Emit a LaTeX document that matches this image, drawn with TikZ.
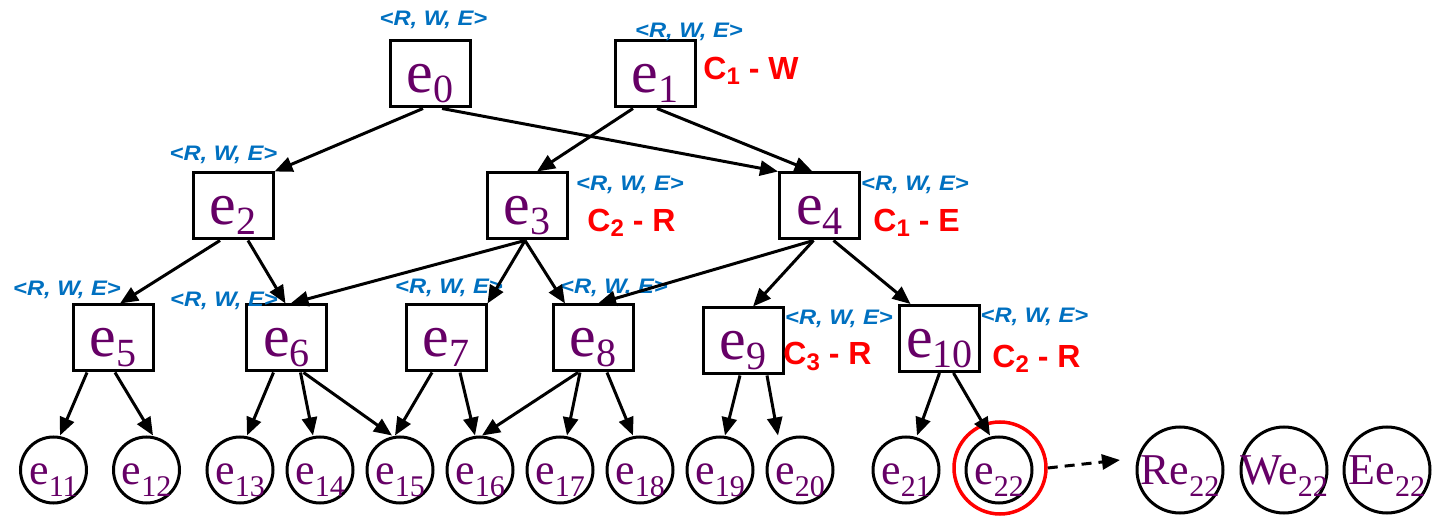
\documentclass[tikz,border=0pt]{standalone}
\usepackage{graphicx}
\usepackage{fontspec}
\setmainfont{Liberation Serif}
\newfontfamily\arialfont{Liberation Sans}
\usetikzlibrary{arrows.meta,calc}

\definecolor{nodepurple}{RGB}{102,0,102}
\definecolor{tagblue}{RGB}{0,112,192}
\definecolor{tagred}{RGB}{255,0,0}

% entity names with lowered index, centred on the node
\newcommand\boxlbl[2]{\makebox[0pt]{#1\raisebox{-5pt}{\fontsize{20pt}{20pt}\selectfont #2}}}
\newcommand\circlbl[2]{\makebox[0pt]{#1\raisebox{-6pt}{\fontsize{15pt}{15pt}\selectfont #2}}}
% access tuple and constraint tags
\newcommand\rwe{\scalebox{1.13}[1]{<R, W, E>}}
\newcommand\cmode[2]{C\raisebox{-2.5pt}{\fontsize{12pt}{12pt}\selectfont #1} - #2}

\begin{document}
\begin{tikzpicture}[x=0.5pt, y=-0.5pt,
  entity/.style={draw, rectangle, line width=1.5pt, minimum width=40pt, minimum height=33pt,
    inner sep=0pt, text=nodepurple, font=\fontsize{30pt}{30pt}\selectfont,
    text height=20pt, text depth=1pt},
  leaf/.style={draw, circle, line width=1.5pt, minimum size=33pt, inner sep=0pt,
    text=nodepurple, font=\fontsize{22pt}{22pt}\selectfont, text height=16pt, text depth=1pt},
  modeleaf/.style={leaf, minimum size=43pt},
  hilite/.style={draw=tagred, circle, line width=1.75pt, minimum size=46pt, inner sep=0pt},
  tag/.style={text=tagblue, font=\arialfont\bfseries\itshape\fontsize{10.5pt}{10.5pt}\selectfont,
    inner sep=0pt, anchor=base},
  mode/.style={text=tagred, font=\arialfont\bfseries\fontsize{16pt}{16pt}\selectfont,
    inner sep=0pt, anchor=base west},
  arr/.style={line width=1.5pt, -{Triangle[length=9pt,width=7.5pt]}},
  dasharr/.style={line width=1.5pt, dash pattern=on 5pt off 3.5pt, -{Triangle[length=9pt,width=7.5pt]}}
]
\useasboundingbox (0,0) rectangle (1437,518);

% entity boxes
\node[entity] (e0)  at (430,74)    {\boxlbl{e}{0}};
\node[entity] (e1)  at (655,74)    {\boxlbl{e}{1}};
\node[entity] (e2)  at (233,206)   {\boxlbl{e}{2}};
\node[entity] (e3)  at (527,206)   {\boxlbl{e}{3}};
\node[entity] (e4)  at (819.5,206) {\boxlbl{e}{4}};
\node[entity] (e5)  at (113,338)   {\boxlbl{e}{5}};
\node[entity] (e6)  at (286.5,338) {\boxlbl{e}{6}};
\node[entity] (e7)  at (446,338)   {\boxlbl{e}{7}};
\node[entity] (e8)  at (593,338)   {\boxlbl{e}{8}};
\node[entity] (e9)  at (743,341)   {\boxlbl{e}{9}};
\node[entity] (e10) at (939.5,338.5) {\boxlbl{e}{10}};

% leaf entities
\node[leaf] (e11) at (53.5,470)  {\circlbl{e}{11}};
\node[leaf] (e12) at (146.5,470) {\circlbl{e}{12}};
\node[leaf] (e13) at (240,470)   {\circlbl{e}{13}};
\node[leaf] (e14) at (320,470)   {\circlbl{e}{14}};
\node[leaf] (e15) at (400,470)   {\circlbl{e}{15}};
\node[leaf] (e16) at (480,470)   {\circlbl{e}{16}};
\node[leaf] (e17) at (560,470)   {\circlbl{e}{17}};
\node[leaf] (e18) at (640,470)   {\circlbl{e}{18}};
\node[leaf] (e19) at (720,470)   {\circlbl{e}{19}};
\node[leaf] (e20) at (800,470)   {\circlbl{e}{20}};
\node[leaf] (e21) at (906,470)   {\circlbl{e}{21}};
\node[leaf] (e22) at (999,470)   {\circlbl{e}{22}};
\node[hilite] (ring) at (1000,468) {};

% per-mode copies of e22
\node[modeleaf] (re22) at (1180,470) {\circlbl{Re}{22}};
\node[modeleaf] (we22) at (1284,470) {\circlbl{We}{22}};
\node[modeleaf] (ee22) at (1387,470) {\circlbl{Ee}{22}};
\coordinate (dashend) at (1120,460);

% access tuples
\node[tag] (t0)  at (433.5,26) {\rwe};
\node[tag] (t1)  at (689,38)   {\rwe};
\node[tag] (t2)  at (223.5,161) {\rwe};
\node[tag] (t3)  at (630,191)  {\rwe};
\node[tag] (t4)  at (915,191)  {\rwe};
\node[tag] (t5)  at (67,296)   {\rwe};
\node[tag] (t6)  at (224,307)  {\rwe};
\node[tag] (t7)  at (449,294)  {\rwe};
\node[tag] (t8)  at (614,294)  {\rwe};
\node[tag] (t9)  at (839,325)  {\rwe};
\node[tag] (t10) at (1034.5,323) {\rwe};

% constraints
\node[mode] (m1)  at (703,80)  {\cmode{1}{W}};
\node[mode] (m3)  at (587,232) {\cmode{2}{R}};
\node[mode] (m4)  at (873,232) {\cmode{1}{E}};
\node[mode] (m9)  at (783,365) {\cmode{3}{R}};
\node[mode] (m10) at (992,368) {\cmode{2}{R}};

% upper levels
\draw[arr] ($(e0.south)+(-7,0)$) -- (e2.north east);
\draw[arr] ($(e0.south)+(12,0)$) -- (e4.north west);
\draw[arr] ($(e1.south)+(-22,0)$) -- ($(e3.north)+(10,0)$);
\draw[arr] ($(e1.south)+(2,0)$) -- ($(e4.north)+(-7,0)$);
\draw[arr] ($(e2.south)+(-13,0)$) -- ($(e5.north)+(7,0)$);
\draw[arr] ($(e2.south)+(15,0)$) -- ($(e6.north)+(-1,0)$);
\draw[arr] ($(e3.south)+(-2,0)$) -- ($(e6.north)+(4,0)$);
\draw[arr] ($(e3.south)+(-2,0)$) -- (e7.north east);
\draw[arr] ($(e3.south)+(-2,0)$) -- ($(e8.north)+(-28,0)$);
\draw[arr] ($(e4.south)+(-6,0)$) -- ($(e8.north)+(5,0)$);
\draw[arr] ($(e4.south)+(-6,0)$) -- ($(e9.north)+(10,0)$);
\draw[arr] ($(e4.south)+(14,0)$) -- ($(e10.north)+(-29,0)$);

% to the leaves
\draw[arr] ($(e5.south)+(-26,0)$) -- ($(e11.north)+(6.5,0)$);
\draw[arr] ($(e5.south)+(2,0)$)   -- ($(e12.north)+(6.5,0)$);
\draw[arr] ($(e6.south)+(-13,0)$) -- ($(e13.north)+(7,0)$);
\draw[arr] ($(e6.south)+(14,0)$)  -- ($(e14.north)+(-7,0)$);
\draw[arr] ($(e6.south)+(17,0)$)  -- ($(e15.north)+(-8,0)$);
\draw[arr] ($(e7.south)+(-14,0)$) -- ($(e15.north)+(-5,0)$);
\draw[arr] ($(e7.south)+(14,0)$)  -- ($(e16.north)+(-5,0)$);
\draw[arr] ($(e8.south)+(-15,0)$) -- ($(e16.north)+(2,0)$);
\draw[arr] ($(e8.south)+(-13,0)$) -- ($(e17.north)+(7,0)$);
\draw[arr] ($(e8.south)+(14,0)$)  -- ($(e18.north)+(-7,0)$);
\draw[arr] ($(e9.south)+(-3,0)$)  -- ($(e19.north)+(5,0)$);
\draw[arr] ($(e9.south)+(24,0)$)  -- ($(e20.north)+(-22,0)$);
\draw[arr] ($(e10.south)+(0,0)$)  -- ($(e21.north)+(11,0)$);
\draw[arr] ($(e10.south)+(14,0)$) -- ($(e22.north)+(-9,0)$);

\draw[dasharr] (ring.east) -- (dashend);
\end{tikzpicture}
\end{document}
